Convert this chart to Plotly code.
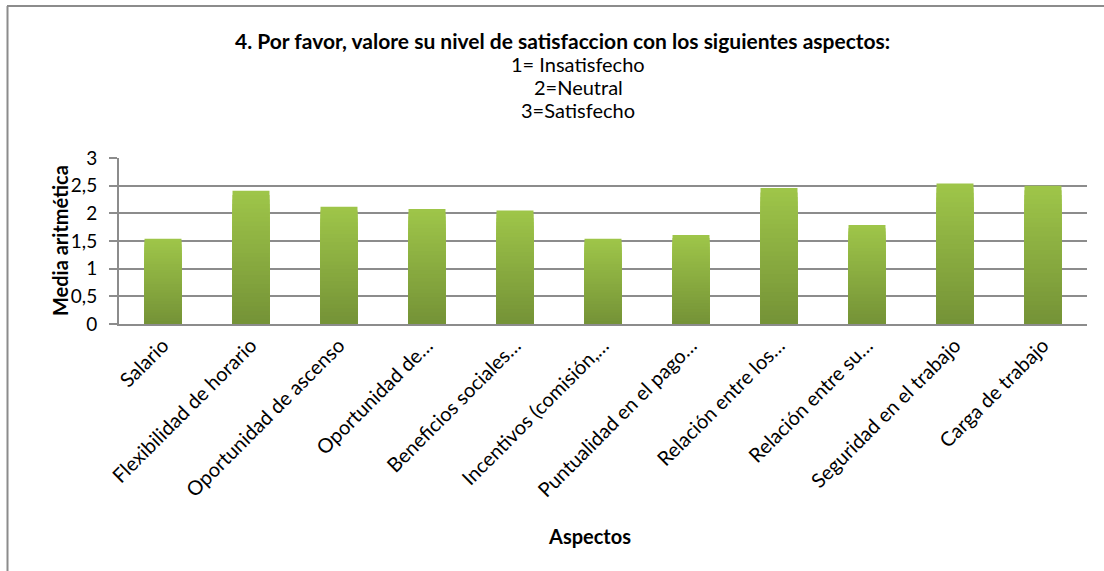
import plotly.graph_objects as go

categorias = [
    "Salario",
    "Flexibilidad de horario",
    "Oportunidad de ascenso",
    "Oportunidad de…",
    "Beneficios sociales…",
    "Incentivos (comisión,…",
    "Puntualidad en el pago…",
    "Relación entre los…",
    "Relación entre su…",
    "Seguridad en el trabajo",
    "Carga de trabajo",
]
valores = [1.54, 2.41, 2.12, 2.08, 2.05, 1.54, 1.61, 2.46, 1.79, 2.54, 2.50]

titulo = "4. Por favor, valore su nivel de satisfaccion con los siguientes aspectos:"
subtitulos = ["1= Insatisfecho", "2=Neutral", "3=Satisfecho"]
eje_y = "Media aritmética"
eje_x = "Aspectos"

W, H = 1104, 571
L, R, T, B = 119, 1087, 158, 324
FONT = "Lato"
GRAY = "#8c8c8c"
FS = 20


def px_x(px):
    return (px - L) / (R - L)


def px_y(py):
    return (B - py) / (B - T)


top_c = (158, 197, 73)
bot_c = (117, 147, 55)
N = 30

fig = go.Figure()
for k in range(N):
    frac = 1 - k / N
    t = k / (N - 1)
    c = tuple(round(top_c[i] + (bot_c[i] - top_c[i]) * t) for i in range(3))
    fig.add_trace(go.Bar(
        x=categorias,
        y=[v * frac for v in valores],
        marker=dict(color="rgb(%d,%d,%d)" % c, line=dict(width=0)),
        width=0.42,
        showlegend=False,
        hoverinfo="skip" if k else None,
    ))

annotations = [
    dict(text="<b>%s</b>" % titulo, x=px_x(562), y=px_y(40), xref="paper", yref="paper",
         showarrow=False, font=dict(family=FONT, size=21, color="#000"), xanchor="center", yanchor="middle"),
]
for i, s in enumerate(subtitulos):
    annotations.append(dict(text=s, x=px_x(578), y=px_y(64 + 23 * i), xref="paper", yref="paper",
                            showarrow=False, font=dict(family=FONT, size=FS, color="#000"),
                            xanchor="center", yanchor="middle"))
annotations.append(dict(text="<b>%s</b>" % eje_x, x=px_x(589), y=px_y(536), xref="paper", yref="paper",
                        showarrow=False, font=dict(family=FONT, size=FS, color="#000"),
                        xanchor="center", yanchor="middle"))
annotations.append(dict(text="<b>%s</b>" % eje_y, x=px_x(60), y=px_y(241), xref="paper", yref="paper",
                        showarrow=False, textangle=-90, font=dict(family=FONT, size=FS, color="#000"),
                        xanchor="center", yanchor="middle"))

shapes = [
    dict(type="line", xref="paper", yref="paper", x0=px_x(7), x1=px_x(1104), y0=px_y(6), y1=px_y(6),
         line=dict(color=GRAY, width=2)),
    dict(type="line", xref="paper", yref="paper", x0=px_x(7.5), x1=px_x(7.5), y0=px_y(6), y1=px_y(571),
         line=dict(color=GRAY, width=2)),
]

fig.update_layout(
    width=W, height=H,
    margin=dict(l=L, r=W - R, t=T, b=H - B),
    paper_bgcolor="white", plot_bgcolor="white",
    barmode="overlay",
    separators=",.",
    font=dict(family=FONT, color="#000"),
    annotations=annotations,
    shapes=shapes,
    xaxis=dict(
        tickangle=-45, tickfont=dict(family=FONT, size=FS, color="#000"),
        showline=True, linecolor=GRAY, linewidth=2, showgrid=False, ticks="",
    ),
    yaxis=dict(
        range=[0, 3], dtick=0.5, tick0=0,
        tickfont=dict(family=FONT, size=19, color="#000"),
        showgrid=True, gridcolor=GRAY, gridwidth=2,
        showline=True, linecolor=GRAY, linewidth=2,
        ticks="outside", ticklen=8, tickcolor=GRAY, tickwidth=2,
        ticklabelstandoff=8,
        zeroline=False,
    ),
)

fig.write_html("out.html", config={"displayModeBar": False},
               post_script="document.body.style.margin='0';document.body.style.overflow='hidden';")
